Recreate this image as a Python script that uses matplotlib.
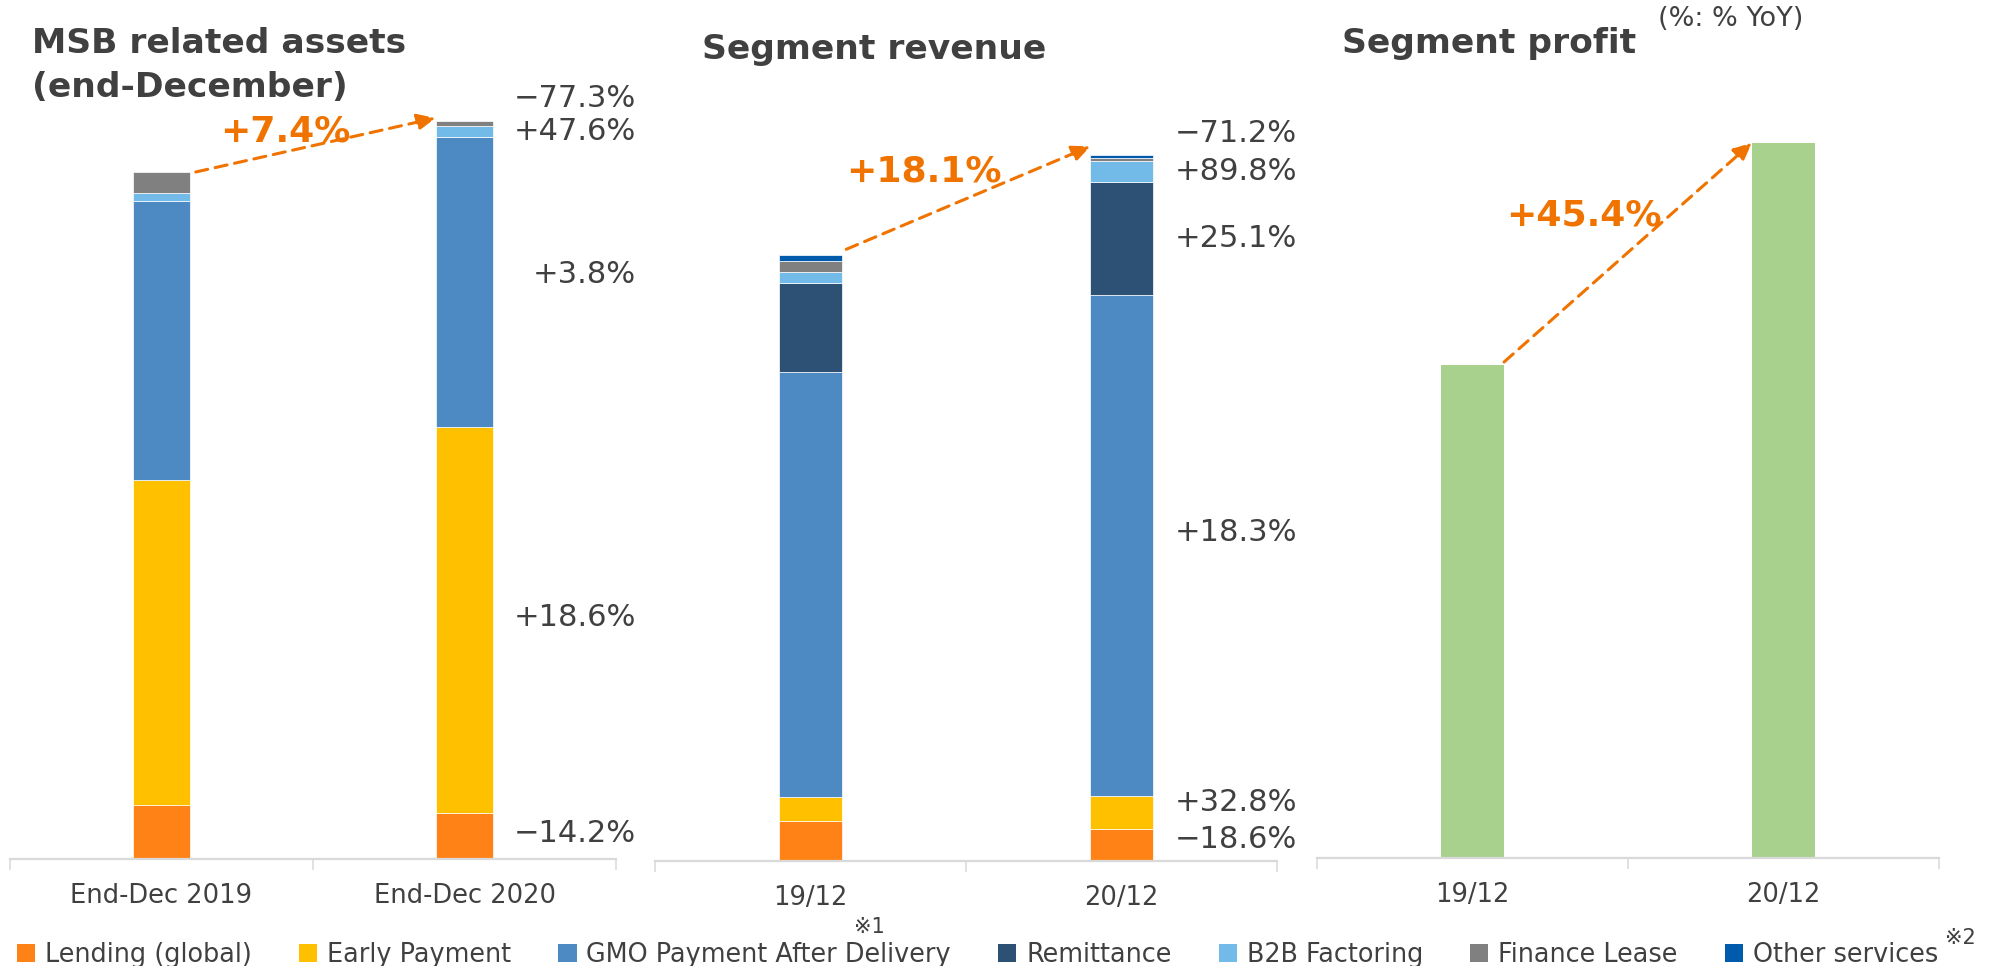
import matplotlib
matplotlib.use("Agg")
import matplotlib.pyplot as plt
from matplotlib.patches import Patch

plt.rcParams['font.family'] = ['DejaVu Sans', 'Noto Sans CJK JP']

W, H = 1991, 966
TXT = "#404040"
ORANGE = "#F07300"
GRID = "#d9d9d9"

# segments (stack order bottom -> top)
segments = ["Lending (global)", "Early Payment", "GMO Payment After Delivery",
            "Remittance", "B2B Factoring", "Finance Lease", "Other services"]
seg_colors = ["#FF8216", "#FFC000", "#4D89C2", "#2C5174", "#72BBE8", "#808080", "#005BAC"]

# MSB related assets (end-December)
asset_periods = ["End-Dec 2019", "End-Dec 2020"]
asset_lending = [53.7, 45.7]
asset_early = [325.3, 386.3]
asset_gmo = [279.0, 289.7]
asset_remit = [0, 0]
asset_b2b = [8.0, 11.3]
asset_lease = [21.0, 5.0]
asset_other = [0, 0]
asset_yoy = ["−14.2%", "+18.6%", "+3.8%", None, "+47.6%", "−77.3%", None]
asset_total_yoy = "+7.4%"

# Segment revenue
rev_periods = ["19/12", "20/12"]
rev_lending = [40.0, 32.0]
rev_early = [24.4, 32.7]
rev_gmo = [424.3, 501.7]
rev_remit = [89.3, 112.3]
rev_b2b = [11.4, 21.0]
rev_lease = [10.6, 3.3]
rev_other = [5.7, 2.7]
rev_yoy = ["−18.6%", "+32.8%", "+18.3%", "+25.1%", "+89.8%", "−71.2%", None]
rev_total_yoy = "+18.1%"

# Segment profit
profit_periods = ["19/12", "20/12"]
profit = [493.0, 715.3]
profit_yoy = "+45.4%"


def make_ax(fig, left_px, right_px, base_px, labels):
    ax = fig.add_axes([left_px / W, (H - base_px) / H, (right_px - left_px) / W, base_px / H])
    ax.set_xlim(-0.5, 1.5)
    ax.set_ylim(0, base_px)
    for s in ["top", "left", "right"]:
        ax.spines[s].set_visible(False)
    ax.spines["bottom"].set_color(GRID)
    ax.spines["bottom"].set_linewidth(1.6)
    ax.set_yticks([])
    ax.set_xticks([0, 1])
    ax.set_xticklabels(labels, fontsize=18.5, color=TXT)
    ax.set_xticks([-0.5, 0.5, 1.5], minor=True)
    ax.tick_params(axis="x", which="major", length=0, pad=17)
    ax.tick_params(axis="x", which="minor", length=8, width=1.1, color=GRID)
    ax.patch.set_alpha(0)
    return ax


def stacked(ax, series, width):
    bottoms = [0.0, 0.0]
    starts = []
    for vals, c in zip(series, seg_colors):
        starts.append(list(bottoms))
        if sum(vals) > 0:
            ax.bar([0, 1], vals, width, bottom=bottoms, color=c, edgecolor="white", linewidth=0.5)
        bottoms = [b + v for b, v in zip(bottoms, vals)]
    return starts, bottoms


def yoy_labels(ax, series, starts, labels, nudges):
    for vals, st, txt, dy in zip(series, starts, labels, nudges):
        if txt:
            y = st[1] + vals[1] / 2 + dy
            ax.text(1.565, y, txt, ha="right", va="center", fontsize=22, color=TXT)


def growth_arrow(ax, width, tot, dy0, dy1, dx0):
    ax.annotate("", xy=(1 - width / 2, tot[1] + dy1), xytext=(width / 2 + dx0, tot[0] + dy0),
                arrowprops=dict(arrowstyle="-|>,head_length=0.55,head_width=0.25", color=ORANGE,
                                lw=2.2, linestyle=(0, (4, 2.5)), mutation_scale=20,
                                shrinkA=0, shrinkB=0), annotation_clip=False)


def ftext(fig, x, y, s, **kw):
    fig.text(x / W, 1 - y / H, s, **kw)


fig = plt.figure(figsize=(W / 100, H / 100), dpi=100)

# panel 1
ax1 = make_ax(fig, 10, 616, 859, asset_periods)
assets = [asset_lending, asset_early, asset_gmo, asset_remit, asset_b2b, asset_lease, asset_other]
w1 = 0.19
st1, tot1 = stacked(ax1, assets, w1)
yoy_labels(ax1, assets, st1, asset_yoy, [3, 3, 8, 0, 0, 25, 0])
growth_arrow(ax1, w1, tot1, 0, 3, 0.018)

# panel 2
ax2 = make_ax(fig, 655, 1277, 861, rev_periods)
revenue = [rev_lending, rev_early, rev_gmo, rev_remit, rev_b2b, rev_lease, rev_other]
w2 = 0.2
st2, tot2 = stacked(ax2, revenue, w2)
yoy_labels(ax2, revenue, st2, rev_yoy, [5, 10, 13, 0, 0, 26, 0])
growth_arrow(ax2, w2, tot2, 6, 9, 0.015)

# panel 3
ax3 = make_ax(fig, 1317, 1939, 858, profit_periods)
ax3.bar([0, 1], profit, 0.203, color="#A9D18E")
growth_arrow(ax3, 0.203, profit, 3, 0, 0)

# titles
tkw = dict(fontsize=24.8, fontweight="bold", color=TXT, va="baseline")
ftext(fig, 32, 53, "MSB related assets", **tkw)
ftext(fig, 32, 97, "(end-December)", **tkw)
ftext(fig, 702, 59, "Segment revenue", **tkw)
ftext(fig, 1342, 53, "Segment profit", **tkw)
ftext(fig, 1658, 19, "(%: % YoY)", fontsize=19.5, color=TXT, va="center")

# total growth labels
okw = dict(fontsize=26, fontweight="bold", color=ORANGE, ha="center", va="center")
ftext(fig, 285, 132, asset_total_yoy, **okw)
ftext(fig, 924, 171, rev_total_yoy, **okw)
ftext(fig, 1584, 216, profit_yoy, **okw)

# legend
handles = [Patch(facecolor=c) for c in seg_colors]
fig.legend(handles, segments, loc="center left", bbox_to_anchor=(17 / W, 1 - 955 / H), ncol=7,
           frameon=False, fontsize=18.4, labelcolor=TXT, handlelength=0.72, handleheight=0.67,
           handletextpad=0.38, columnspacing=1.84, borderpad=0, borderaxespad=0)
ftext(fig, 869, 927, "※1", fontsize=15, color=TXT, ha="center", va="center")
ftext(fig, 1960, 938, "※2", fontsize=15, color=TXT, ha="center", va="center")

fig.savefig("out.png", dpi=100)
